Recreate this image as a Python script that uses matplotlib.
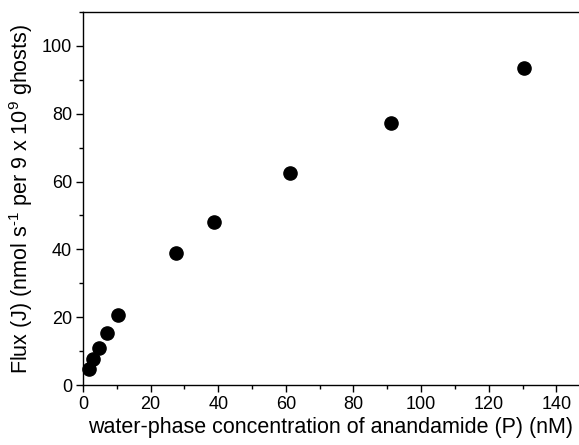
import matplotlib
matplotlib.use('Agg')
import matplotlib.pyplot as plt
from matplotlib.ticker import MultipleLocator

plt.rcParams['font.family'] = ['Liberation Sans', 'DejaVu Sans']
plt.rcParams['mathtext.fontset'] = 'custom'
plt.rcParams['mathtext.rm'] = 'Liberation Sans'
plt.rcParams['mathtext.it'] = 'Liberation Sans:italic'

# water-phase concentration (nM) and flux
conc = [1.9, 2.9, 4.6, 7.1, 10.4, 27.4, 38.8, 61.2, 91.0, 130.3]
flux = [4.6, 7.6, 11.0, 15.2, 20.6, 39.0, 48.0, 62.6, 77.3, 93.4]

fig = plt.figure(figsize=(5.79, 4.45), dpi=100)
ax = fig.add_axes([0.1434, 0.1348, 0.8566, 0.8382])

ax.plot(conc, flux, 'o', color='black', markersize=9.5, clip_on=False)

ax.set_xlim(0, 146.7)
ax.set_ylim(0, 110)
ax.xaxis.set_major_locator(MultipleLocator(20))
ax.xaxis.set_minor_locator(MultipleLocator(10))
ax.yaxis.set_major_locator(MultipleLocator(20))
ax.yaxis.set_minor_locator(MultipleLocator(10))
ax.tick_params(which='major', direction='out', length=5, width=1, labelsize=13, pad=3)
ax.tick_params(which='minor', direction='out', length=3, width=1)
ax.spines['right'].set_visible(False)
for s in ['left', 'bottom', 'top']:
    ax.spines[s].set_linewidth(1)

ax.set_xlabel('water-phase concentration of anandamide (P) (nM)', fontsize=15.5, labelpad=3)
ax.set_ylabel(r'Flux (J) (nmol s$^{\text{-}1}$ per 9 x 10$^{9}$ ghosts)', fontsize=15.5, labelpad=5)

fig.savefig('out.png', dpi=100)
